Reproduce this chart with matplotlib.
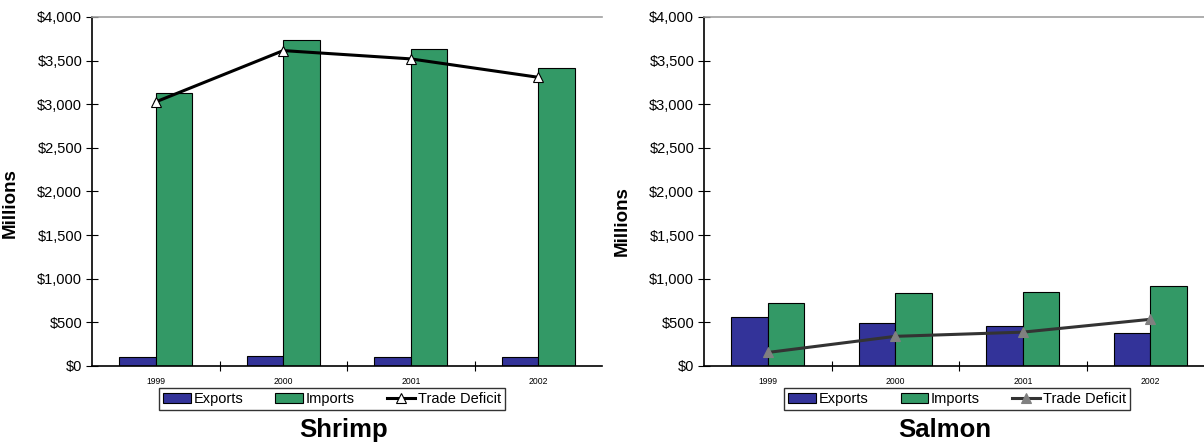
import numpy as np
import matplotlib
matplotlib.use("Agg")
import matplotlib.pyplot as plt
from matplotlib.ticker import FuncFormatter, FixedLocator

plt.rcParams['font.family'] = ['Liberation Sans', 'DejaVu Sans']

years = ['1999', '2000', '2001', '2002']

shrimp_exports = [107, 118, 108, 105]
shrimp_imports = [3132, 3733, 3630, 3412]
shrimp_deficit = [3027, 3615, 3520, 3309]

salmon_exports = [565, 489, 462, 382]
salmon_imports = [722, 833, 852, 917]
salmon_deficit = [155, 340, 388, 535]

exp_color = '#333399'
imp_color = '#339966'

fig = plt.figure(figsize=(12.04, 4.43), dpi=100)

W, H = 1204, 443


def make_axes(x0, y_label_y, exports, imports, deficit, line_color, mk_face, title, leg_x, title_x):
    ax = fig.add_axes([x0 / W, 1 - 366 / H, 510 / W, 349 / H])
    x = np.arange(len(years))
    bw = 0.286
    b1 = ax.bar(x - bw / 2, exports, bw, color=exp_color, edgecolor='black', linewidth=0.8)
    b2 = ax.bar(x + bw / 2, imports, bw, color=imp_color, edgecolor='black', linewidth=0.8)
    l1, = ax.plot(x, deficit, color=line_color, lw=2.2, marker='^', markersize=7,
                  markerfacecolor=mk_face, markeredgecolor=line_color if mk_face == 'white' else mk_face,
                  markeredgewidth=0.8, zorder=3)
    ax.set_xlim(-0.5, 3.5)
    ax.set_ylim(0, 4000)
    ax.set_yticks(np.arange(0, 4001, 500))
    ax.yaxis.set_major_formatter(FuncFormatter(lambda v, p: '${:,.0f}'.format(v)))
    ax.tick_params(axis='y', direction='inout', length=8, width=0.8, labelsize=10.5, pad=3)
    ax.set_xticks(x)
    ax.set_xticklabels(years)
    ax.tick_params(axis='x', which='major', length=0, labelsize=6.2, pad=8)
    ax.xaxis.set_minor_locator(FixedLocator([0.5, 1.5, 2.5]))
    ax.tick_params(axis='x', which='minor', direction='inout', length=7, width=0.8)
    ax.spines['right'].set_visible(False)
    ax.spines['top'].set_color('#a0a0a0')
    ax.spines['top'].set_linewidth(1.2)
    ax.spines['left'].set_linewidth(1.2)
    ax.spines['bottom'].set_linewidth(1.2)
    ax.set_ylabel('Millions', fontsize=13.5, fontweight='bold')
    ax.yaxis.set_label_coords(-0.143, y_label_y)
    leg = fig.legend([b1, b2, l1], ['Exports', 'Imports', 'Trade Deficit'], loc='center', ncol=3,
                     bbox_to_anchor=(leg_x / W, 1 - 399 / H), fontsize=10.5,
                     frameon=True, fancybox=False, edgecolor='black',
                     handlelength=1.9, handleheight=0.75, columnspacing=2.2,
                     handletextpad=0.2, borderpad=0.3, borderaxespad=0)
    leg.get_frame().set_linewidth(1.0)
    fig.text(title_x / W, 1 - 430 / H, title, ha='center', va='center',
             fontsize=18.5, fontweight='bold')
    return ax


make_axes(92, 0.467, shrimp_exports, shrimp_imports, shrimp_deficit,
          'black', 'white', 'Shrimp', 332, 344)
make_axes(704, 0.415, salmon_exports, salmon_imports, salmon_deficit,
          '#333333', '#808080', 'Salmon', 957, 945)

fig.savefig('out.png', dpi=100)
